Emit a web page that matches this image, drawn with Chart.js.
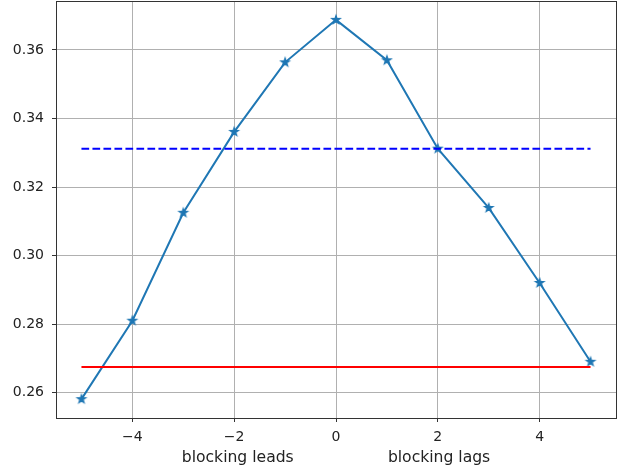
<!DOCTYPE html>
<html>
<head>
<meta charset="utf-8">
<script src="https://cdn.jsdelivr.net/npm/chart.js@4.4.1/dist/chart.umd.min.js"></script>
<style>
  html, body { margin: 0; padding: 0; background: #fff; }
  canvas { display: block; }
</style>
</head>
<body>
<canvas id="lagChart" width="621" height="470"></canvas>
<script>
// lag (years) and correlation values
const lags = [-5, -4, -3, -2, -1, 0, 1, 2, 3, 4, 5];
const corr = [0.2581, 0.281, 0.3125, 0.3361, 0.3564, 0.3688, 0.357, 0.3312, 0.3139, 0.292, 0.269];
const meanLevel = 0.3312; // blue dashed reference
const baseLevel = 0.2675; // red reference
const xTicks = [-4, -2, 0, 2, 4];
const yTicks = [0.26, 0.28, 0.3, 0.32, 0.34, 0.36];

const fontFamily = "'DejaVu Sans', sans-serif";

// filled five point star used as marker
const starImg = document.createElement("canvas");
starImg.width = 14;
starImg.height = 14;
(() => {
  const c = starImg.getContext("2d");
  c.beginPath();
  for (let i = 0; i < 10; i++) {
    const r = i % 2 === 0 ? 4.3 : 1.7;
    const a = -Math.PI / 2 + (i * Math.PI) / 5;
    const px = 7 + r * Math.cos(a);
    const py = 7 + r * Math.sin(a);
    if (i === 0) c.moveTo(px, py);
    else c.lineTo(px, py);
  }
  c.closePath();
  c.fillStyle = "#1f77b4";
  c.strokeStyle = "#1f77b4";
  c.lineWidth = 1.3;
  c.lineJoin = "miter";
  c.fill();
  c.stroke();
})();

// box around the plotting area
const frame = {
  id: "frame",
  afterDatasetsDraw(chart) {
    const { ctx, chartArea: a } = chart;
    ctx.save();
    ctx.strokeStyle = "#333";
    ctx.lineWidth = 1;
    ctx.strokeRect(a.left + 0.5, a.top + 0.5, a.right - a.left, a.bottom - a.top);
    ctx.restore();
  },
};

const ends = [lags[0], lags[lags.length - 1]];

new Chart(document.getElementById("lagChart"), {
  type: "line",
  data: {
    datasets: [
      {
        data: lags.map((x, i) => ({ x, y: corr[i] })),
        borderColor: "#1f77b4",
        borderWidth: 2,
        pointStyle: starImg,
        pointRadius: 5,
        order: 3,
      },
      {
        data: ends.map((x) => ({ x, y: meanLevel })),
        borderColor: "#0000ff",
        borderWidth: 2,
        borderDash: [7.7, 3.3],
        pointRadius: 0,
        order: 2,
      },
      {
        data: ends.map((x) => ({ x, y: baseLevel })),
        borderColor: "#ff0000",
        borderWidth: 2,
        pointRadius: 0,
        order: 1,
      },
    ],
  },
  options: {
    responsive: false,
    animation: false,
    devicePixelRatio: 1,
    layout: { autoPadding: false, padding: { top: 1, right: 5, left: 0, bottom: 0 } },
    plugins: {
      legend: { display: false },
      tooltip: { enabled: false },
    },
    scales: {
      x: {
        type: "linear",
        min: -5.5,
        max: 5.5,
        afterBuildTicks: (s) => {
          s.ticks = xTicks.map((v) => ({ value: v }));
        },
        afterFit: (s) => {
          s.height = 52;
          s.paddingLeft = 0;
          s.paddingRight = 0;
        },
        grid: { color: "#b0b0b0", lineWidth: 1, tickColor: "#333", tickLength: 4 },
        border: { display: false },
        ticks: {
          color: "#222",
          padding: 7,
          maxRotation: 0,
          font: { family: fontFamily, size: 14 },
          callback: (v) => String(v).replace("-", "\u2212"),
        },
        title: {
          display: true,
          text: "blocking leads" + " ".repeat(19) + "blocking lags",
          color: "#222",
          font: { family: fontFamily, size: 15.6 },
          padding: { top: 0, bottom: 3 },
        },
      },
      y: {
        min: 0.2526,
        max: 0.3743,
        afterBuildTicks: (s) => {
          s.ticks = yTicks.map((v) => ({ value: v }));
        },
        afterFit: (s) => {
          s.width = 56;
          s.paddingTop = 0;
          s.paddingBottom = 0;
        },
        grid: { color: "#b0b0b0", lineWidth: 1, tickColor: "#333", tickLength: 4 },
        border: { display: false },
        ticks: {
          color: "#222",
          padding: 8,
          font: { family: fontFamily, size: 14 },
          callback: (v) => v.toFixed(2),
        },
      },
    },
  },
  plugins: [frame],
});
</script>
</body>
</html>
